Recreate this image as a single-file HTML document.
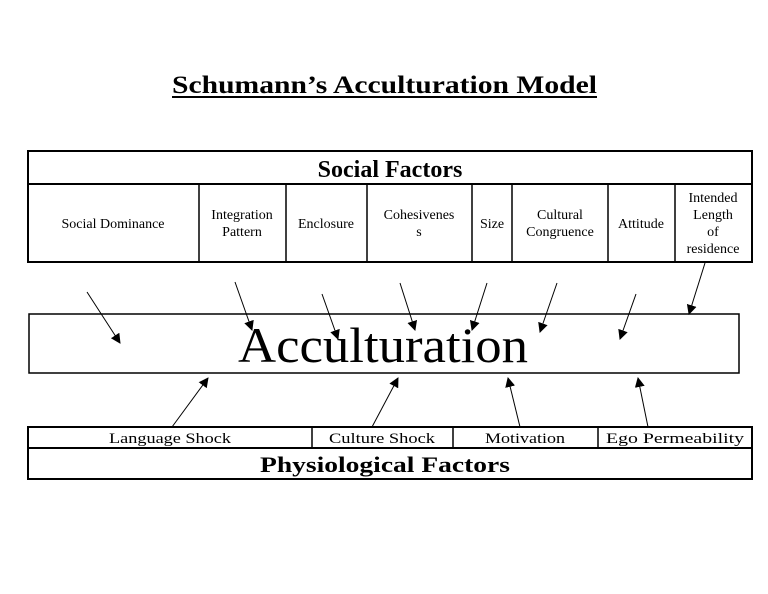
<!DOCTYPE html>
<html><head><meta charset="utf-8"><style>
html,body{margin:0;padding:0;background:#fff;}
svg{display:block;}
text{font-family:"Liberation Serif",serif;fill:#000;}
</style></head><body>
<svg width="768" height="594" viewBox="0 0 768 594" xmlns="http://www.w3.org/2000/svg">
<defs><marker id="a" markerWidth="10" markerHeight="10" refX="9" refY="5" orient="auto" markerUnits="userSpaceOnUse"><path d="M0,0 L10,5 L0,10 z" fill="#000"/></marker></defs>
<text x="172" y="93" font-size="25" font-weight="bold" textLength="425" lengthAdjust="spacingAndGlyphs">Schumann’s Acculturation Model</text>
<line x1="172" y1="97" x2="597" y2="97" stroke="#000" stroke-width="2"/>
<g fill="none" stroke="#000" stroke-width="2">
<rect x="28" y="151" width="724" height="111"/>
<line x1="28" y1="184" x2="752" y2="184"/>
<g stroke-width="1.5">
<line x1="199" y1="184" x2="199" y2="262"/><line x1="286" y1="184" x2="286" y2="262"/>
<line x1="367" y1="184" x2="367" y2="262"/><line x1="472" y1="184" x2="472" y2="262"/>
<line x1="512" y1="184" x2="512" y2="262"/><line x1="608" y1="184" x2="608" y2="262"/>
<line x1="675" y1="184" x2="675" y2="262"/></g>
<rect x="29" y="314" width="710" height="59" stroke-width="1.5"/>
<rect x="28" y="427" width="724" height="52"/>
<line x1="28" y1="448" x2="752" y2="448"/>
<line x1="312" y1="427" x2="312" y2="448" stroke-width="1.5"/>
<line x1="453" y1="427" x2="453" y2="448" stroke-width="1.5"/>
<line x1="598" y1="427" x2="598" y2="448" stroke-width="1.5"/>
</g>
<text x="390" y="177" font-size="24" font-weight="bold" text-anchor="middle">Social Factors</text>
<g font-size="14" text-anchor="middle">
<text x="113" y="228">Social Dominance</text>
<text x="242" y="219">Integration</text><text x="242" y="236">Pattern</text>
<text x="326" y="228">Enclosure</text>
<text x="419" y="219">Cohesivenes</text><text x="419" y="236">s</text>
<text x="492" y="228">Size</text>
<text x="560" y="219">Cultural</text><text x="560" y="236">Congruence</text>
<text x="641" y="228">Attitude</text>
<text x="713" y="202">Intended</text><text x="713" y="219">Length</text><text x="713" y="236">of</text><text x="713" y="253">residence</text>
</g>
<text x="238" y="362" font-size="50" textLength="290" lengthAdjust="spacingAndGlyphs">Acculturation</text>
<g font-size="15" text-anchor="middle">
<text x="170" y="443" textLength="122" lengthAdjust="spacingAndGlyphs">Language Shock</text>
<text x="382" y="443" textLength="106" lengthAdjust="spacingAndGlyphs">Culture Shock</text>
<text x="525" y="443" textLength="80" lengthAdjust="spacingAndGlyphs">Motivation</text>
<text x="675" y="443" textLength="138" lengthAdjust="spacingAndGlyphs">Ego Permeability</text>
</g>
<text x="385" y="472" font-size="22" font-weight="bold" text-anchor="middle" textLength="250" lengthAdjust="spacingAndGlyphs">Physiological Factors</text>
<g stroke="#000" stroke-width="1" marker-end="url(#a)">
<line x1="87" y1="292" x2="120" y2="343"/>
<line x1="235" y1="282" x2="252" y2="330"/>
<line x1="322" y1="294" x2="338" y2="339"/>
<line x1="400" y1="283" x2="415" y2="330"/>
<line x1="487" y1="283" x2="472" y2="330"/>
<line x1="557" y1="283" x2="540" y2="332"/>
<line x1="636" y1="294" x2="620" y2="339"/>
<line x1="705" y1="263" x2="689" y2="314"/>
<line x1="172" y1="427" x2="208" y2="378"/>
<line x1="372" y1="427" x2="398" y2="378"/>
<line x1="520" y1="427" x2="508" y2="378"/>
<line x1="648" y1="427" x2="638" y2="378"/>
</g>
</svg>
</body></html>
